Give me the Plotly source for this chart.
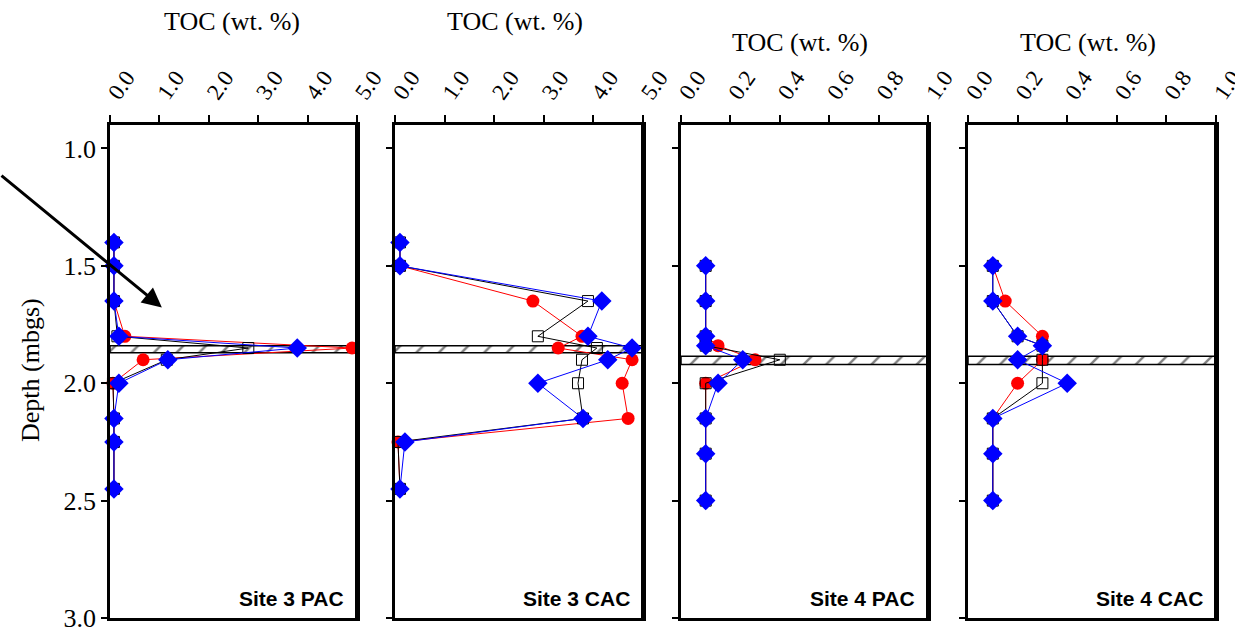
import plotly.graph_objects as go

# ---------------- data ----------------
depth_s3 = [1.40, 1.50, 1.65, 1.80, 1.85, 1.90, 2.00, 2.15, 2.25, 2.45]
depth_s4 = [1.50, 1.65, 1.80, 1.84, 1.90, 2.00, 2.15, 2.30, 2.50]

s3pac_red = [0.08, 0.08, 0.08, 0.30, 4.90, 0.67, 0.06, 0.08, 0.08, 0.08]
s3pac_blue = [0.08, 0.08, 0.08, 0.18, 3.79, 1.17, 0.18, 0.08, 0.08, 0.08]
s3pac_black = [0.08, 0.08, 0.08, 0.15, 2.80, 1.15, 0.06, 0.08, 0.08, 0.08]

s3cac_red = [0.10, 0.10, 2.78, 3.77, 3.29, 4.78, 4.58, 4.70, 0.06, 0.10]
s3cac_blue = [0.10, 0.10, 4.17, 3.89, 4.78, 4.29, 2.88, 3.79, 0.20, 0.10]
s3cac_black = [0.10, 0.10, 3.89, 2.88, 4.07, 3.77, 3.69, 3.79, 0.06, 0.10]

s4pac_red = [0.10, 0.10, 0.10, 0.15, 0.30, 0.10, 0.10, 0.10, 0.10]
s4pac_blue = [0.10, 0.10, 0.10, 0.10, 0.25, 0.15, 0.10, 0.10, 0.10]
s4pac_black = [0.10, 0.10, 0.10, 0.10, 0.40, 0.10, 0.10, 0.10, 0.10]

s4cac_red = [0.10, 0.15, 0.30, 0.30, 0.30, 0.20, 0.10, 0.10, 0.10]
s4cac_blue = [0.10, 0.10, 0.20, 0.30, 0.20, 0.40, 0.10, 0.10, 0.10]
s4cac_black = [0.10, 0.10, 0.20, 0.30, 0.30, 0.30, 0.10, 0.10, 0.10]

band_s3 = [1.84, 1.87]
band_s4 = [1.885, 1.92]

panel_titles = ["Site 3 PAC", "Site 3 CAC", "Site 4 PAC", "Site 4 CAC"]
x_max = [5.0, 5.0, 1.0, 1.0]
x_ticks = [[0, 1, 2, 3, 4, 5], [0, 1, 2, 3, 4, 5],
           [0, 0.2, 0.4, 0.6, 0.8, 1.0], [0, 0.2, 0.4, 0.6, 0.8, 1.0]]
y_ticks = [1.0, 1.5, 2.0, 2.5, 3.0]
y_tick_labels = ["1.0", "1.5", "2.0", "2.5", "3.0"]
x_title = "TOC (wt. %)"
y_title = "Depth (mbgs)"

panels = [
    (depth_s3, s3pac_red, s3pac_black, s3pac_blue, band_s3),
    (depth_s3, s3cac_red, s3cac_black, s3cac_blue, band_s3),
    (depth_s4, s4pac_red, s4pac_black, s4pac_blue, band_s4),
    (depth_s4, s4cac_red, s4cac_black, s4cac_blue, band_s4),
]

# ---------------- layout geometry ----------------
W, H = 1235, 629
x_domains = [(110, 357), (395, 643), (681, 928), (968, 1216)]
y_dom = (1 - 618 / H, 1 - 125 / H)
title_pos = [(232, 22), (515, 22), (800, 42), (1088, 42)]

SERIF = "Liberation Serif"
SANS = "Liberation Sans"

fig = go.Figure()

for i, (dep, red, blk, blu, band) in enumerate(panels):
    n = i + 1
    xa = "x" if n == 1 else f"x{n}"
    ya = "y" if n == 1 else f"y{n}"
    xm = x_max[i]
    # hatched band
    fig.add_trace(go.Scatter(
        x=[0, xm, xm, 0, 0], y=[band[0], band[0], band[1], band[1], band[0]],
        mode="lines", fill="toself", fillcolor="white",
        fillpattern=dict(shape="/", fgcolor="black", bgcolor="white", size=16, solidity=0.15),
        line=dict(color="black", width=1.5), xaxis=xa, yaxis=ya,
        showlegend=False, hoverinfo="skip"))
    # red circles
    fig.add_trace(go.Scatter(
        x=red, y=dep, mode="lines+markers", xaxis=xa, yaxis=ya,
        line=dict(color="#ff0000", width=1),
        marker=dict(symbol="circle", size=13, color="#ff0000"),
        cliponaxis=False, showlegend=False))
    # black open squares
    fig.add_trace(go.Scatter(
        x=blk, y=dep, mode="lines+markers", xaxis=xa, yaxis=ya,
        line=dict(color="black", width=1),
        marker=dict(symbol="square", size=11, color="rgba(0,0,0,0)",
                    line=dict(color="black", width=1)),
        cliponaxis=False, showlegend=False))
    # blue diamonds
    fig.add_trace(go.Scatter(
        x=blu, y=dep, mode="lines+markers", xaxis=xa, yaxis=ya,
        line=dict(color="#0000ff", width=1),
        marker=dict(symbol="diamond", size=15, color="#0000ff"),
        cliponaxis=False, showlegend=False))

layout = dict(
    width=W, height=H, margin=dict(l=0, r=0, t=0, b=0, autoexpand=False),
    paper_bgcolor="white", plot_bgcolor="white", showlegend=False,
)
shapes = []
annotations = []
for i in range(4):
    n = i + 1
    xk = "xaxis" if n == 1 else f"xaxis{n}"
    yk = "yaxis" if n == 1 else f"yaxis{n}"
    xa = "x" if n == 1 else f"x{n}"
    ya = "y" if n == 1 else f"y{n}"
    d = x_domains[i]
    layout[xk] = dict(
        domain=[d[0] / W, d[1] / W], anchor=ya, side="top", automargin=False,
        range=[0, x_max[i]], tickvals=x_ticks[i], tickformat=".1f",
        ticks="outside", ticklen=7, tickwidth=1.5, tickcolor="black",
        tickangle=-55, tickfont=dict(family=SERIF, size=23, color="black"),
        ticklabeloverflow="allow",
        showline=True, linewidth=2.5, linecolor="black", mirror=True,
        showgrid=False, zeroline=False, fixedrange=True)
    layout[yk] = dict(
        domain=list(y_dom), anchor=xa, range=[3.0, 0.9], automargin=False,
        tickvals=y_ticks, ticktext=y_tick_labels,
        showticklabels=(i == 0), ticklabeloverflow="allow",
        ticks="outside", ticklen=6, tickwidth=1.5, tickcolor="black",
        tickfont=dict(family=SERIF, size=26, color="black"),
        showline=True, linewidth=2.5, linecolor="black", mirror=True,
        showgrid=False, zeroline=False, fixedrange=True)
    # thicker right frame edge
    shapes.append(dict(type="line", xref=f"{xa} domain", yref=f"{ya} domain",
                       x0=1, x1=1, y0=0, y1=1, line=dict(color="black", width=4)))
    # top title
    tx, ty = title_pos[i]
    annotations.append(dict(text=x_title, xref="paper", yref="paper",
                            x=tx / W, y=1 - ty / H, xanchor="center", yanchor="middle",
                            showarrow=False, font=dict(family=SERIF, size=26, color="black")))
    # panel label
    annotations.append(dict(text=f"<b>{panel_titles[i]}</b>", xref=f"{xa} domain",
                            yref=f"{ya} domain", x=0.955, y=0.04, xanchor="right",
                            yanchor="middle", showarrow=False,
                            font=dict(family=SANS, size=21, color="black")))

annotations.append(dict(text=y_title, xref="paper", yref="paper", x=30 / W, y=1 - 370 / H,
                        textangle=-90, xanchor="center", yanchor="middle", showarrow=False,
                        font=dict(family=SERIF, size=26, color="black")))
# arrow
annotations.append(dict(text="", x=1.05, y=1.677, xref="x", yref="y",
                        ax=-162, ay=-133, showarrow=True, arrowhead=2,
                        arrowsize=1.3, arrowwidth=3, arrowcolor="black", standoff=0))

layout["shapes"] = shapes
layout["annotations"] = annotations
fig.update_layout(**layout)
fig.write_html("out.html", config={"displayModeBar": False},
               post_script="document.body.style.margin='0';document.body.style.overflow='hidden';")
